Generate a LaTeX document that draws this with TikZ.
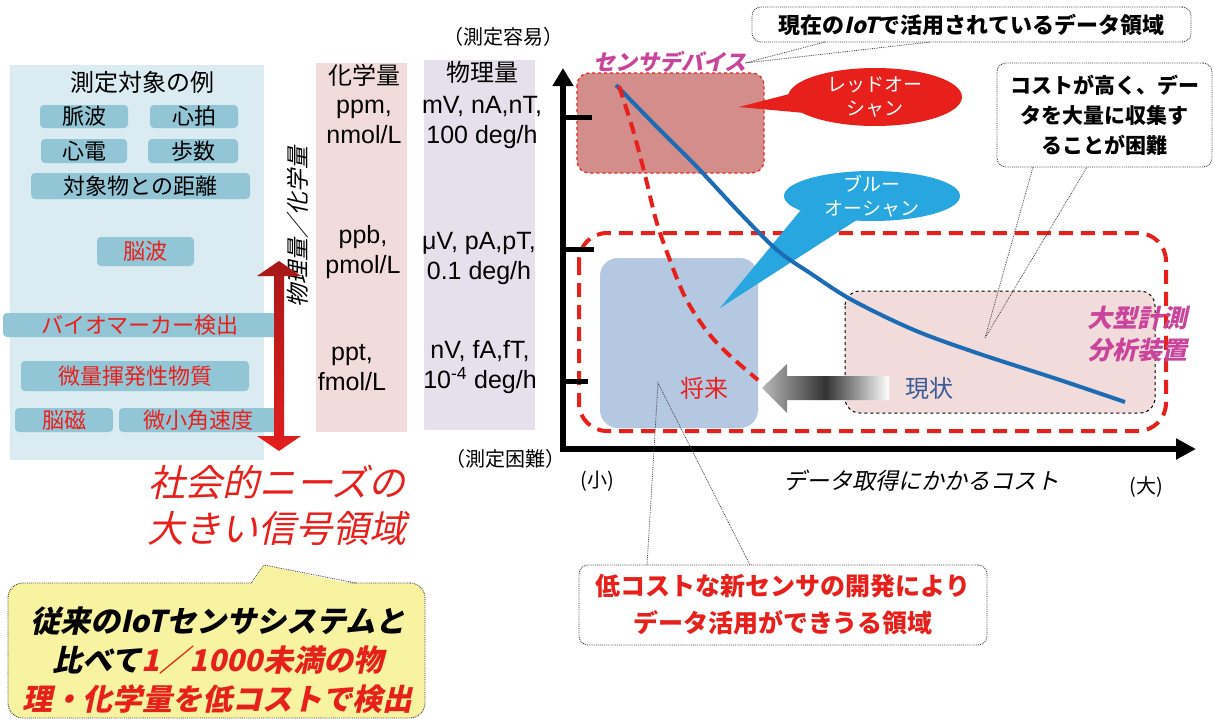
\documentclass[tikz,border=0pt]{standalone}
\usepackage{fontspec}
\setmainfont{Liberation Sans}
\newfontfamily\jp{Noto Sans CJK JP}
\newfontfamily\jpsl{Noto Sans CJK JP}[FakeSlant=0.22]
\usetikzlibrary{arrows.meta,shapes.geometric}
\newcommand\fsz[2]{\fontsize{#1}{#2}\selectfont}
\definecolor{panelblue}{HTML}{DAEBF1}
\definecolor{tagblue}{HTML}{92C5D5}
\definecolor{chempink}{HTML}{F2DCDB}
\definecolor{physlav}{HTML}{E5E0EC}
\definecolor{sensorfill}{HTML}{D38E8B}
\definecolor{oceanred}{HTML}{E8201C}
\definecolor{oceanblue}{HTML}{27A6DF}
\definecolor{curveblue}{HTML}{1C6BB5}
\definecolor{futurefill}{HTML}{B5C8E1}
\definecolor{magentatxt}{HTML}{C9449A}
\definecolor{calloutyellow}{HTML}{F8F3A0}
\definecolor{nowblue}{HTML}{3A5A95}
\definecolor{arrowdark}{HTML}{A81818}
\definecolor{arrowred}{HTML}{E21E1E}
\tikzset{
  txt/.style={inner sep=0pt, align=center},
  tag/.style={fill=tagblue, rounded corners=4pt, inner sep=0pt, font=\jp\fsz{22}{26}},
  callout/.style={draw=black!75, densely dotted, line width=0.9pt, rounded corners=9pt, inner sep=0pt, align=center},
  tailline/.style={draw=black!75, densely dotted, line width=0.8pt},
  coltext/.style={inner sep=0pt, align=center, font=\fsz{25}{30}},
}
\begin{document}
\begin{tikzpicture}[x=1pt,y=-1pt]
\useasboundingbox (0,0) rectangle (1213,720);
\fill[white] (0,0) rectangle (1213,720);

% ---------- left panel ----------
\fill[panelblue] (10,65) rectangle (264,460);
\node[txt, font=\jp\fsz{24}{28}] (ptitle) at (142,82) {測定対象の例};
\node[tag, minimum width=88, minimum height=23] (t1) at (84,116.5) {脈波};
\node[tag, minimum width=88, minimum height=23] (t2) at (194,116.5) {心拍};
\node[tag, minimum width=86, minimum height=24] (t3) at (84,151) {心電};
\node[tag, minimum width=90, minimum height=24] (t4) at (193,151) {歩数};
\node[tag, minimum width=219, minimum height=26] (t5) at (140.5,186) {対象物との距離};
\node[tag, minimum width=97, minimum height=29, text=oceanred] (t6) at (145.5,251.5) {脳波};
\node[tag, minimum width=274, minimum height=24, text=oceanred] (t7) at (140,325) {バイオマーカー検出};
\node[tag, minimum width=228, minimum height=30, text=oceanred] (t8) at (135,376) {微量揮発性物質};
\node[tag, minimum width=98, minimum height=24, text=oceanred] (t9) at (64,420) {脳磁};
\node[tag, minimum width=158, minimum height=24, text=oceanred] (t10) at (198,420) {微小角速度};

% rotated label
\node[txt, rotate=90, font=\jpsl\fsz{23}{26}] (rotlabel) at (298,227) {物理量／化学量};

% red double arrow
\shade[top color=arrowdark, bottom color=arrowred]
  (279,261) -- (301,276) -- (284,276) -- (284,436) -- (301,436) -- (279,451)
  -- (257,436) -- (274,436) -- (274,276) -- (257,276) -- cycle;

% ---------- columns ----------
\fill[chempink] (316,63) rectangle (407,432);
\fill[physlav] (424,60) rectangle (535,430);
\node[txt, font=\jp\fsz{24}{28}] (chemh) at (364,75) {化学量};
\node[txt, font=\jp\fsz{24}{28}] (physh) at (482,72) {物理量};
\node[coltext] (c1) at (364,122) {ppm,\\nmol/L};
\node[coltext] (c2) at (363,252) {ppb,\\pmol/L};
\node[coltext] (c3) at (352,367.5) {ppt,\\fmol/L};
\node[coltext] (p1) at (482,122) {mV, nA,nT,\\100 deg/h};
\node[coltext] (p2) at (479,258) {μV, pA,pT,\\0.1 deg/h};
\node[coltext] (p3) at (480,367.5) {nV, fA,fT,\\10\textsuperscript{-4} deg/h};

\node[txt, font=\jp\fsz{20}{24}] (easy) at (503,37) {（測定容易）};
\node[txt, font=\jp\fsz{20}{24}] (hard) at (505,459) {（測定困難）};

% ---------- chart ----------
\draw[fill=sensorfill, draw=oceanred, dashed, line width=1.2pt, rounded corners=12pt] (577,73) rectangle (764,173);

% red ocean
\fill[oceanred] (805,90) -- (739,107) -- (805,113) -- cycle;
\node[ellipse, fill=oceanred, minimum width=174, minimum height=58, inner sep=0pt] (redocean) at (875,97) {};
\node[txt, text=white, font=\jp\fsz{19}{24}] (redoceantxt) at (redocean) {レッドオー\\シャン};

% big red dashed region
\draw[oceanred, line width=4pt, dash pattern=on 14pt off 8pt, rounded corners=28pt] (579,233) rectangle (1166,431);
% future box
\fill[futurefill, rounded corners=18pt] (600,258) rectangle (758,428);
% present box
\draw[black, dashed, line width=1pt, fill=chempink, rounded corners=15pt] (845,291) rectangle (1155,413);

% blue ocean tail and ellipse
\coordinate (btip) at (720,308);
\fill[oceanblue] (805,205) -- (btip) -- (866,214) -- cycle;
\node[ellipse, fill=oceanblue, minimum width=176, minimum height=50, inner sep=0pt] (blueocean) at (872,196) {};
\node[txt, text=white, font=\jp\fsz{19}{24}] (blueoceantxt) at (blueocean) {ブルー\\オーシャン};

% curves
\draw[curveblue, line width=4pt] plot[smooth, tension=0.55] coordinates {(616,85) (657,127) (697,167) (739,212) (777,250) (810,273) (852,300) (914,330) (977,353) (1060,380) (1125,402)};
\draw[oceanred, line width=4pt, dash pattern=on 12pt off 7pt] plot[smooth, tension=0.55] coordinates {(619,86) (633,130) (645,175) (656,220) (668,255) (685,297) (706,330) (727,353) (758,380)};

% gradient arrow
\shade[left color=gray!55, right color=white, middle color=black!80]
  (762,388) -- (787,364) -- (787,376) -- (889,376) -- (889,400) -- (787,400) -- (787,413) -- cycle;

% axes
\coordinate (ytop) at (563,68);
\coordinate (origin) at (563,449);
\coordinate (xend) at (1196,449);
\draw[line width=6pt, line join=miter, {Triangle[length=18pt,width=20pt]}-{Triangle[length=20pt,width=20pt]}] (ytop) -- (origin) -- (xend);
\draw[line width=5pt] (563,117) -- (592,117);
\draw[line width=5pt] (563,249) -- (594,249);
\draw[line width=5pt] (563,381) -- (588,381);

\node[txt, font=\jp\fsz{20}{24}] (small) at (597,481) {(小)};
\node[txt, font=\jpsl\fsz{23}{26}] (costlabel) at (921,481) {データ取得にかかるコスト};
\node[txt, font=\jp\fsz{20}{24}] (large) at (1146,487) {(大)};

% labels inside chart
\node[txt, text=magentatxt, font=\jpsl\bfseries\fsz{22}{26}] (sensor) at (670,62) {センサデバイス};
\node[txt, text=oceanred, font=\jp\fsz{24}{28}] (future) at (704,388) {将来};
\node[txt, text=nowblue, font=\jp\fsz{24}{28}] (present) at (929,388) {現状};
\node[txt, text=magentatxt, font=\jpsl\bfseries\fsz{25}{32}] (bigdev) at (1137,334) {大型計測\\分析装置};

% ---------- callouts ----------
\node[callout, minimum width=439, minimum height=35, font=\jp\bfseries\fsz{22}{26}] (iotbox) at (971.5,24.5) {現在の{\jpsl\bfseries IoT}で活用されているデータ領域};
\coordinate (iottip) at (745,63);
\draw[tailline] (825,42) -- (iottip) -- (931,42);

\node[callout, minimum width=215, minimum height=104, font=\jp\bfseries\fsz{21}{30}] (costbox) at (1104.5,115) {コストが高く、デー\\タを大量に収集す\\ることが困難};
\coordinate (costtip) at (985,338);
\draw[tailline] (1033,167) -- (costtip) -- (1087,167);

\node[callout, minimum width=408, minimum height=80, text=oceanred, font=\jp\bfseries\fsz{25}{37}] (newbox) at (783,605) {低コストな新センサの開発により\\データ活用ができうる領域};
\coordinate (newtip) at (658,383);
\draw[tailline] (647,565) -- (newtip) -- (750,565);

% social needs
\node[txt, text=oceanred, font=\jpsl\fsz{37}{46}] (needs) at (277,505) {社会的ニーズの\\大きい信号領域};

% yellow callout
\node[callout, fill=calloutyellow, minimum width=417, minimum height=135, rounded corners=15pt] (ybox) at (216.5,650.5) {};
\coordinate (ytip) at (264,565);
\fill[calloutyellow] (251,585) -- (ytip) -- (356,585) -- cycle;
\draw[tailline] (251,583) -- (ytip) -- (356,583);
\node[txt, font=\jpsl\bfseries\fsz{30}{39}] (ytext) at (218,660) {従来のIoTセンサシステムと\\比べて{\color{oceanred}1／1000未満の物}\\{\color{oceanred}理・化学量を低コストで検出}};
\end{tikzpicture}
\end{document}
